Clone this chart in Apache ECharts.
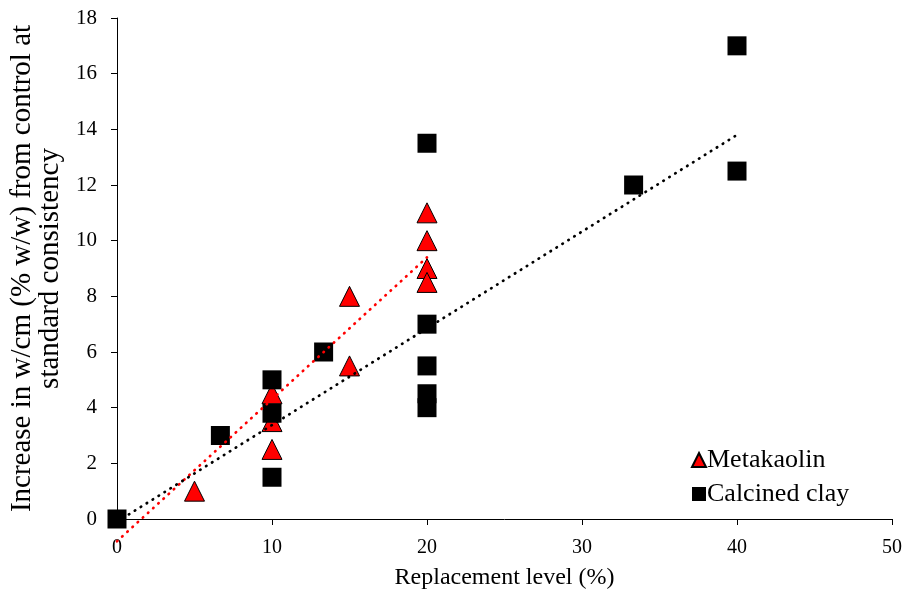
<!DOCTYPE html>
<html>
<head>
<meta charset="utf-8">
<script src="https://cdn.jsdelivr.net/npm/echarts@6/dist/echarts.min.js"></script>
<style>html,body{margin:0;padding:0;background:#fff}#c{width:913px;height:593px}</style>
</head>
<body>
<div id="c"></div>
<script>
var seriesNames = ['Metakaolin', 'Calcined clay'];
var metakaolinX = [5, 10, 10, 10, 15, 15, 20, 20, 20, 20];
var metakaolinY = [1, 4.5, 3.5, 2.5, 8, 5.5, 11, 10, 9, 8.5];
var clayX = [0, 6.67, 10, 10, 10, 13.33, 20, 20, 20, 20, 20, 33.33, 40, 40];
var clayY = [0, 3, 5, 3.8, 1.5, 6, 13.5, 7, 5.5, 4.5, 4, 12, 17, 12.5];
var mkTrendX = [0, 20];
var mkTrendY = [-0.8, 9.4];
var clayTrendX = [0, 40];
var clayTrendY = [-0.1, 13.8];
var xTicks = [0, 10, 20, 30, 40, 50];
var yTicks = [0, 2, 4, 6, 8, 10, 12, 14, 16, 18];

function pairs(xs, ys) { return xs.map(function (x, i) { return [x, ys[i]]; }); }

var font = 'Liberation Serif';
var chart = echarts.init(document.getElementById('c'));
chart.setOption({
  backgroundColor: '#fff',
  animation: false,
  textStyle: { fontFamily: font, color: '#000' },
  grid: { left: 117, right: 21, top: 18, bottom: 74, containLabel: false, outerBoundsMode: 'none' },
  legend: {
    orient: 'vertical', left: 686, top: 442,
    itemWidth: 14, itemHeight: 14, itemGap: 8,
    data: seriesNames,
    textStyle: { fontFamily: font, fontSize: 26, color: '#000', padding: [0, 0, 0, -4] }
  },
  xAxis: {
    type: 'value', min: xTicks[0], max: xTicks[xTicks.length - 1], interval: 10,
    name: 'Replacement level (%)', nameLocation: 'middle', nameGap: 47,
    nameTextStyle: { fontFamily: font, fontSize: 24, color: '#000' },
    axisLine: { show: true, onZero: false, lineStyle: { color: '#000', width: 1 } },
    axisTick: { show: true, length: 6, lineStyle: { color: '#000' } },
    axisLabel: { fontFamily: font, fontSize: 20, color: '#000', margin: 19 },
    splitLine: { show: false }
  },
  yAxis: {
    type: 'value', min: yTicks[0], max: yTicks[yTicks.length - 1], interval: 2,
    name: 'Increase in w/cm (% w/w) from control at\nstandard consistency',
    nameLocation: 'middle', nameGap: 53, nameRotate: 90,
    nameTextStyle: { fontFamily: font, fontSize: 29, color: '#000', lineHeight: 28 },
    axisLine: { show: true, lineStyle: { color: '#000', width: 1 } },
    axisTick: { show: true, length: 6, lineStyle: { color: '#000' } },
    axisLabel: { fontFamily: font, fontSize: 21, color: '#000', margin: 20 },
    splitLine: { show: false }
  },
  series: [
    {
      name: seriesNames[0], type: 'scatter', symbol: 'triangle', symbolSize: 20, z: 2,
      itemStyle: { color: '#ff0000', borderColor: '#000', borderWidth: 1, opacity: 1 },
      data: pairs(metakaolinX, metakaolinY)
    },
    {
      name: seriesNames[1], type: 'scatter', symbol: 'rect', symbolSize: 19, z: 3,
      itemStyle: { color: '#000', borderColor: '#000', borderWidth: 0, opacity: 1 },
      data: pairs(clayX, clayY)
    },
    {
      name: 'mkTrend', type: 'line', symbol: 'none', z: 5, silent: true, clip: false,
      lineStyle: { color: '#ff0000', width: 2.7, type: [0.5, 6.5], cap: 'round' },
      data: pairs(mkTrendX, mkTrendY)
    },
    {
      name: 'clayTrend', type: 'line', symbol: 'none', z: 5, silent: true, clip: false,
      lineStyle: { color: '#000', width: 2.7, type: [0.5, 6.5], cap: 'round' },
      data: pairs(clayTrendX, clayTrendY)
    }
  ]
});
</script>
</body>
</html>
